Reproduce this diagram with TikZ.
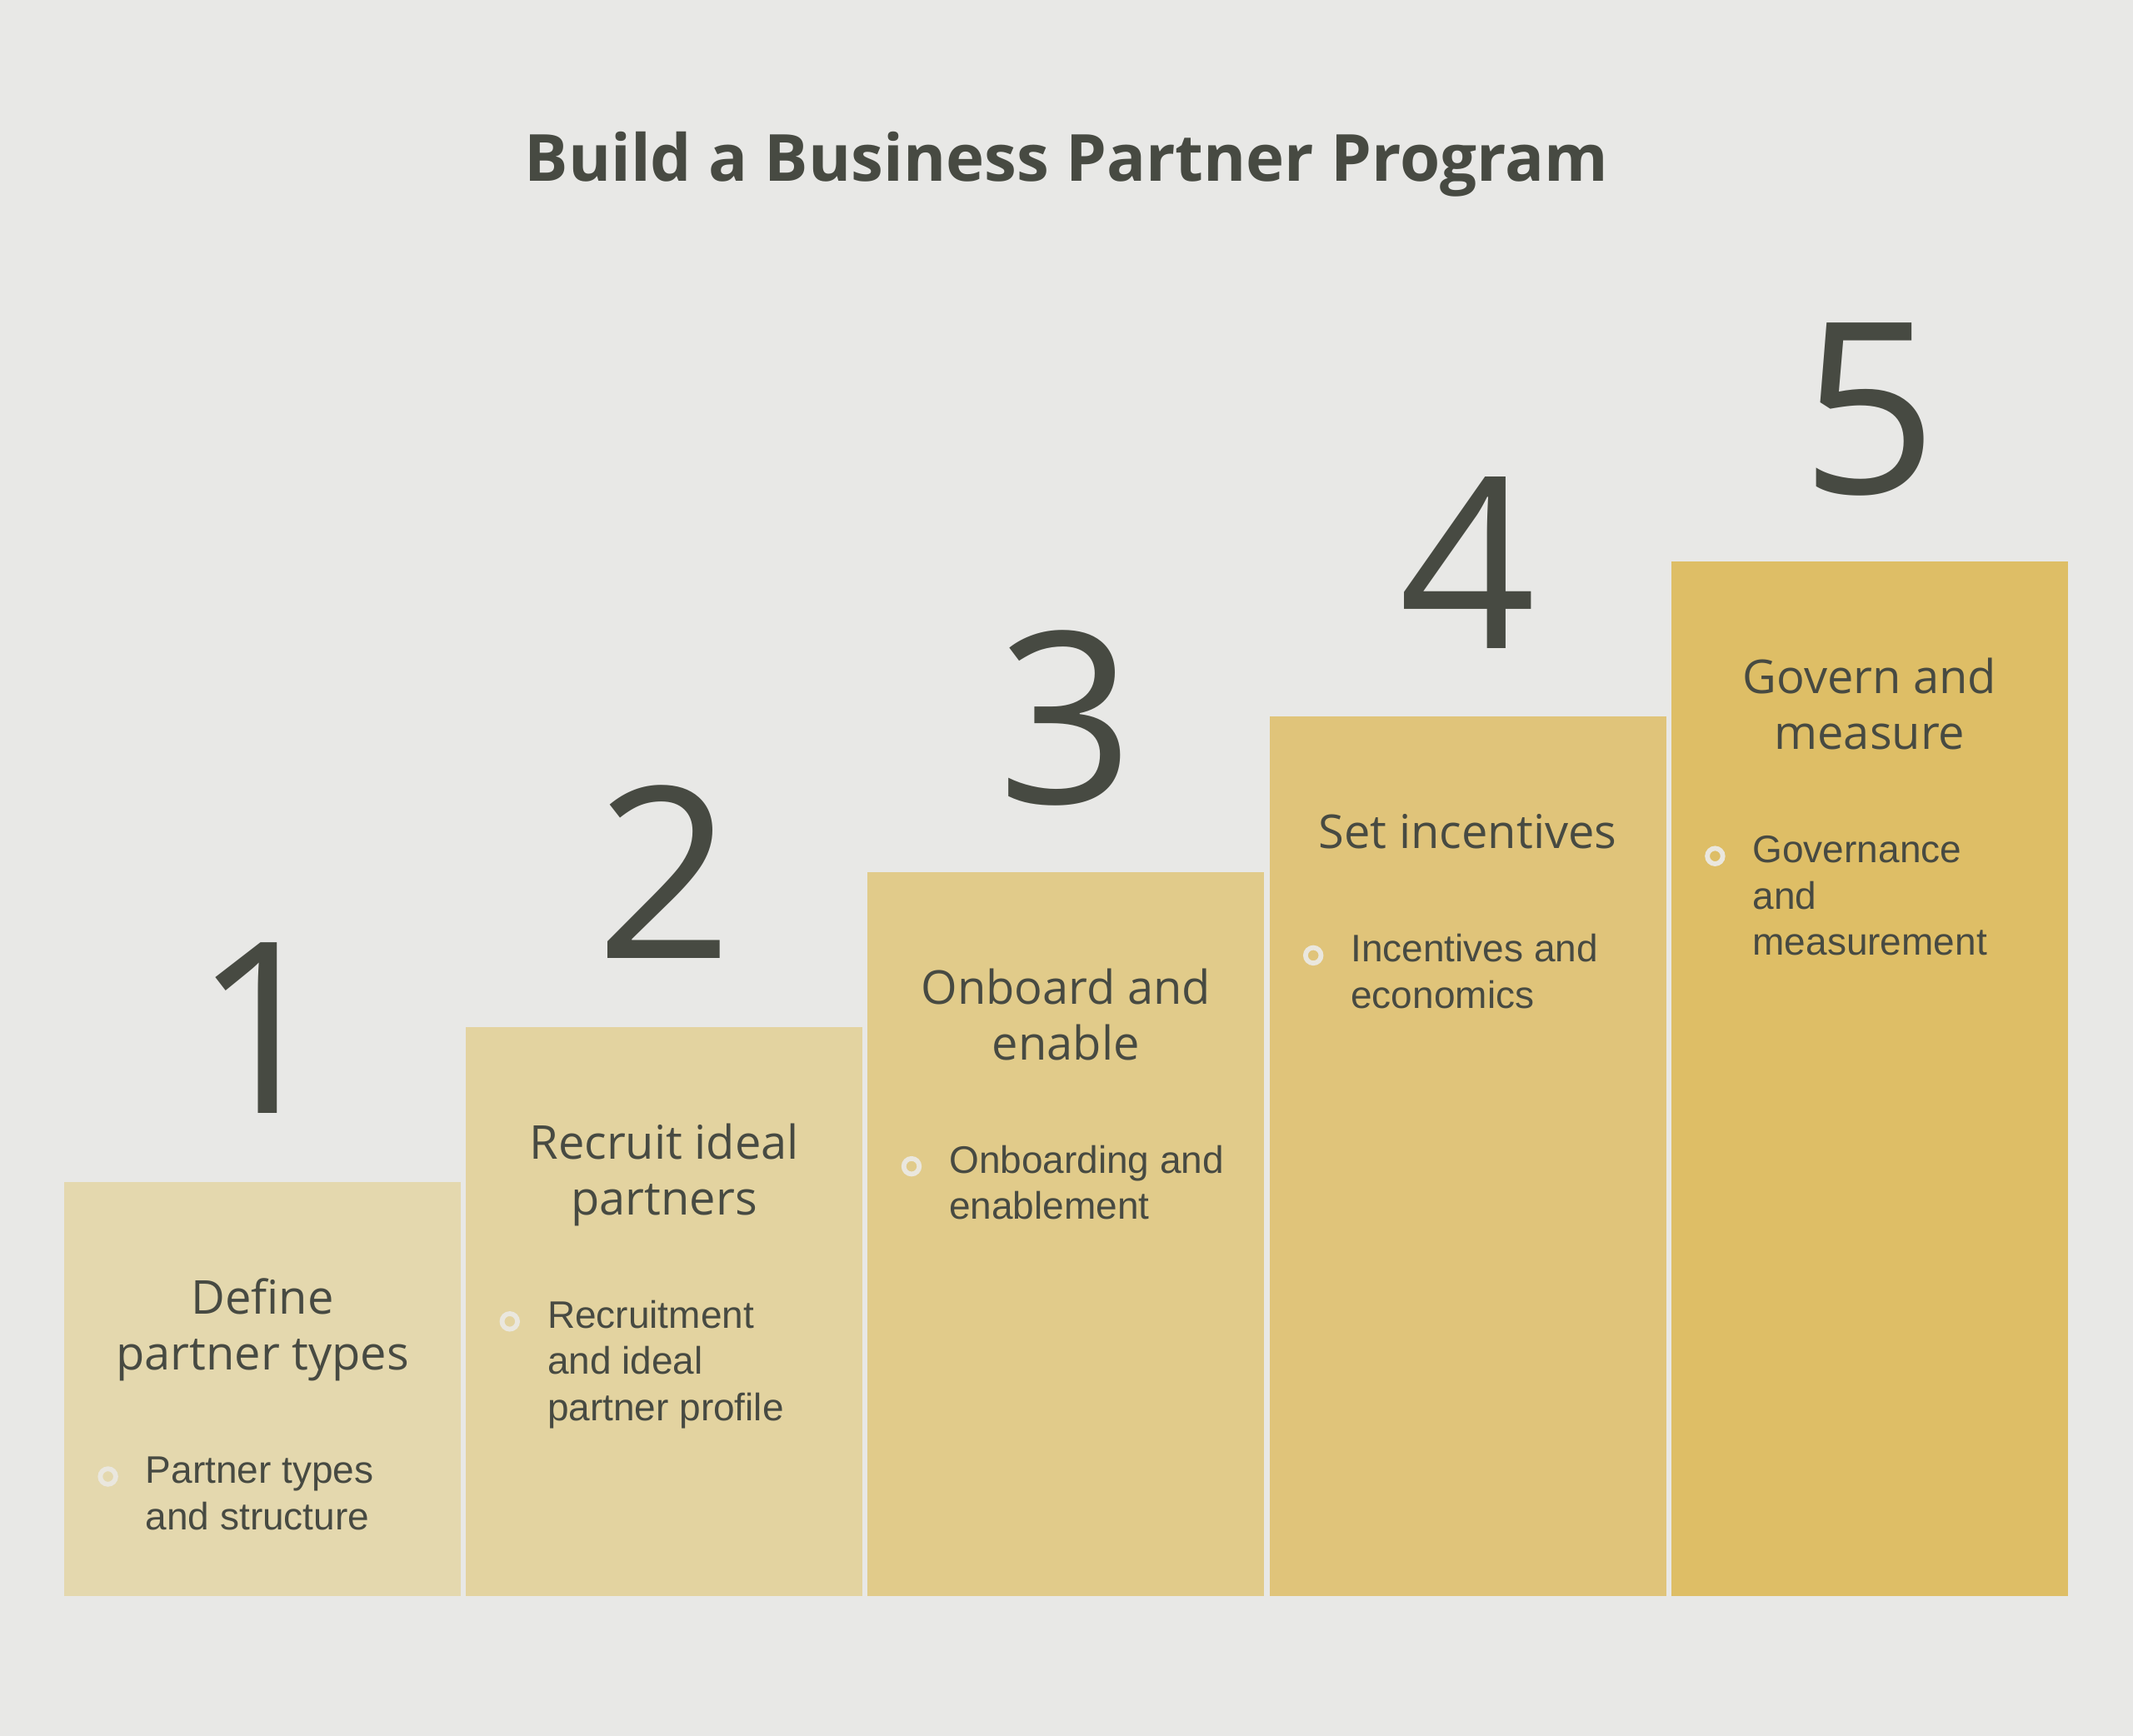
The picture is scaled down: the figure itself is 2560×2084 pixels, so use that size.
\documentclass[tikz,border=0pt]{standalone}
\usepackage{fontspec}
\setmainfont{Open Sans}
\newfontfamily\bulletfont{Liberation Sans}
\definecolor{bgc}{HTML}{E8E8E6}
\definecolor{txt}{HTML}{474A42}
\definecolor{boxa}{HTML}{E4D8AE}
\definecolor{boxb}{HTML}{E3D3A0}
\definecolor{boxc}{HTML}{E1CB8A}
\definecolor{boxd}{HTML}{E0C47A}
\definecolor{boxe}{HTML}{DEBE66}
\definecolor{ringc}{HTML}{EAE7DE}
\tikzset{
  bignum/.style={anchor=base,inner sep=0pt,text=txt,font={\fontsize{287}{300}\selectfont}},
  heading/.style={anchor=base,inner sep=0pt,align=center,text=txt,font={\fontsize{56}{67}\selectfont}},
  bullettext/.style={anchor=base west,inner sep=0pt,align=left,text=txt,font={\bulletfont\fontsize{46}{55.5}\selectfont}},
  ring/.style={circle,minimum size=18.6pt,inner sep=0pt,line width=5.8pt,draw=ringc},
  titletext/.style={anchor=base,inner sep=0pt,text=txt,font={\bfseries\fontsize{78}{90}\selectfont}}
}
\begin{document}
\begin{tikzpicture}[x=1pt,y=-1pt]
\fill[bgc] (0,0) rectangle (2560,2084);
\useasboundingbox (0,0) rectangle (2560,2084);
\node[titletext] (title) at (1280,218) {Build a Business Partner Program};
% boxes
\fill[boxa] (77,1419) rectangle (553,1916);
\fill[boxb] (559.2,1232.8) rectangle (1035.2,1916);
\fill[boxc] (1041.4,1046.6) rectangle (1517.4,1916);
\fill[boxd] (1523.6,860.4) rectangle (1999.6,1916);
\fill[boxe] (2005.8,674.2) rectangle (2481.8,1916);
% numbers
\node[bignum] (n1) at (315,1336) {1};
\node[bignum] (n2) at (797.2,1150.8) {2};
\node[bignum] (n3) at (1279.4,964.6) {3};
\node[bignum] (n4) at (1761.6,778.4) {4};
\node[bignum] (n5) at (2243.8,592.2) {5};
% headings (base anchor = baseline of last line)
\node[heading] (h1) at (315,1644.5) {Define\\partner types};
\node[heading] (h2) at (797.2,1458.3) {Recruit ideal\\partners};
\node[heading] (h3) at (1279.4,1272.1) {Onboard and\\enable};
\node[heading] (h4) at (1761.6,1018.9) {Set incentives};
\node[heading] (h5) at (2243.8,899.7) {Govern and\\measure};
% bullets
\node[ring,fill=boxa] (r1) at (129.6,1772.5) {};
\node[bullettext] (t1) at (174.6,1836) {Partner types\\and structure};
\node[ring,fill=boxb] (r2) at (611.8,1586.3) {};
\node[bullettext] (t2) at (656.8,1705.3) {Recruitment\\and ideal\\partner profile};
\node[ring,fill=boxc] (r3) at (1094.0,1400.1) {};
\node[bullettext] (t3) at (1139.0,1463.6) {Onboarding and\\enablement};
\node[ring,fill=boxd] (r4) at (1576.2,1146.9) {};
\node[bullettext] (t4) at (1621.2,1210.4) {Incentives and\\economics};
\node[ring,fill=boxe] (r5) at (2058.4,1027.7) {};
\node[bullettext] (t5) at (2103.4,1146.7) {Governance\\and\\measurement};
\end{tikzpicture}
\end{document}
